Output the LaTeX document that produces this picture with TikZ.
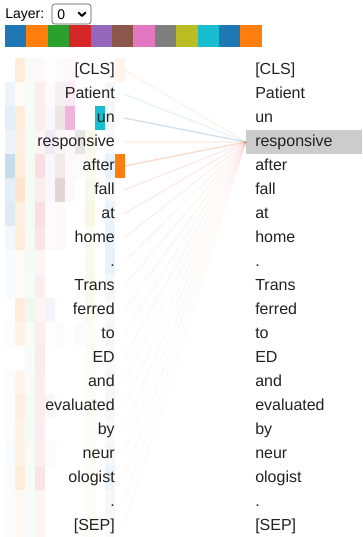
\documentclass[tikz,border=0pt]{standalone}
\usepackage{fontspec}
\setmainfont{Liberation Sans}
\usepackage{tikz}

\definecolor{hc0}{HTML}{1F77B4}
\definecolor{hc1}{HTML}{FF7F0E}
\definecolor{hc2}{HTML}{2CA02C}
\definecolor{hc3}{HTML}{D62728}
\definecolor{hc4}{HTML}{9467BD}
\definecolor{hc5}{HTML}{8C564B}
\definecolor{hc6}{HTML}{E377C2}
\definecolor{hc7}{HTML}{7F7F7F}
\definecolor{hc8}{HTML}{BCBD22}
\definecolor{hc9}{HTML}{17BECF}
\definecolor{hc10}{HTML}{1F77B4}
\definecolor{hc11}{HTML}{FF7F0E}
\definecolor{hlgray}{HTML}{CCCCCC}
\definecolor{ink}{HTML}{222222}

\tikzset{
    tok/.style={inner xsep=6.75pt, inner ysep=0pt, minimum height=18pt,
        text height=9pt, text depth=2.6pt, text=ink, font=\fontsize{12}{14}\selectfont},
    tokL/.style={tok, anchor=east},
    tokR/.style={tok, anchor=west, text width=73.5pt, align=left},
    pick3/.style={fill=hlgray},
    att/.style={line width=0.95pt}
}

\begin{document}
\begin{tikzpicture}[x=0.75pt, y=-0.75pt]
            \useasboundingbox (0,0) rectangle (362,537);
            \node[anchor=west, inner sep=0pt, font=\fontsize{10.5}{12}\selectfont] (layer) at (5,15) {Layer:};
            \draw[black!70, rounded corners=2pt] (52,4) rectangle (91,24);
            \node[anchor=west, inner sep=0pt, font=\fontsize{10.5}{12}\selectfont] (sel) at (57,15) {0};
            \draw[line width=1.4pt, line cap=round, line join=round] (78.5,12.5) -- (82,16) -- (85.5,12.5);
            \foreach \c in {0,...,11}
                \fill[hc\c] (5+21.4*\c,25) rectangle ++(21.4,22);
            \foreach \vals [count=\r from 0] in {
                    {0,15,3,3,2,2,5,0,0,0,0,8},
                    {8,3,3,8,3,8,15,0,0,0,5,0},
                    {12,15,3,8,5,15,55,0,0,100,5,0},
                    {8,12,5,5,15,5,5,20,10,0,3,0},
                    {25,15,5,15,5,12,5,3,8,0,10,100},
                    {12,20,5,8,5,25,5,0,10,0,5,0},
                    {15,12,5,15,3,3,0,0,12,0,8,0},
                    {5,15,5,12,3,3,0,0,5,0,10,0},
                    {3,3,5,5,0,0,0,0,8,0,10,0},
                    {3,3,3,8,0,0,0,0,10,0,5,0},
                    {0,15,8,5,8,0,0,0,8,0,3,0},
                    {2,10,3,8,2,2,0,3,5,0,5,0},
                    {0,0,3,10,0,0,0,0,5,0,3,0},
                    {2,8,3,8,0,0,0,0,5,0,5,0},
                    {2,12,5,8,5,0,0,0,5,0,5,0},
                    {2,10,5,8,0,0,0,0,5,0,3,0},
                    {3,10,3,8,3,0,0,0,5,0,5,0},
                    {2,15,3,12,0,0,0,0,5,0,8,0},
                    {2,5,3,5,0,0,0,0,5,0,5,0},
                    {2,5,3,5,0,0,0,0,3,0,3,0}}
                \foreach \v [count=\c from 0] in \vals
                    \fill[hc\c, fill opacity=\v/100] (5+10*\c,58+24*\r) rectangle ++(10,24);
            \foreach \t [count=\i from 0] in {{[CLS]},Patient,un,responsive,after,fall,at,home,.,Trans,ferred,to,ED,and,evaluated,by,neur,ologist,.,{[SEP]}} {
                \node[tokL] (l\i) at (124,70+24*\i) {\t};
                \node[tokR, pick\i/.try] (r\i) at (246,70+24*\i) {\t};
            }
            \foreach \r/\lc/\lo in {0/hc1/0.09, 1/hc0!70!gray/0.1, 2/hc0!70!gray/0.24, 3/hc1/0.09, 4/hc1!70!hc3/0.24,
                    5/hc3/0.1, 6/hc3/0.09, 7/hc3/0.07, 8/hc3/0.05, 9/hc3/0.05, 10/hc3/0.05, 11/hc3/0.045,
                    12/hc3/0.045, 13/hc3/0.04, 14/hc3/0.04, 15/hc3/0.04, 16/hc3/0.035, 17/hc3/0.035, 18/hc3/0.03, 19/hc3/0.03}
                \draw[att, draw=\lc, draw opacity=\lo] (l\r.east) -- (r3.west);
        \end{tikzpicture}
\end{document}
